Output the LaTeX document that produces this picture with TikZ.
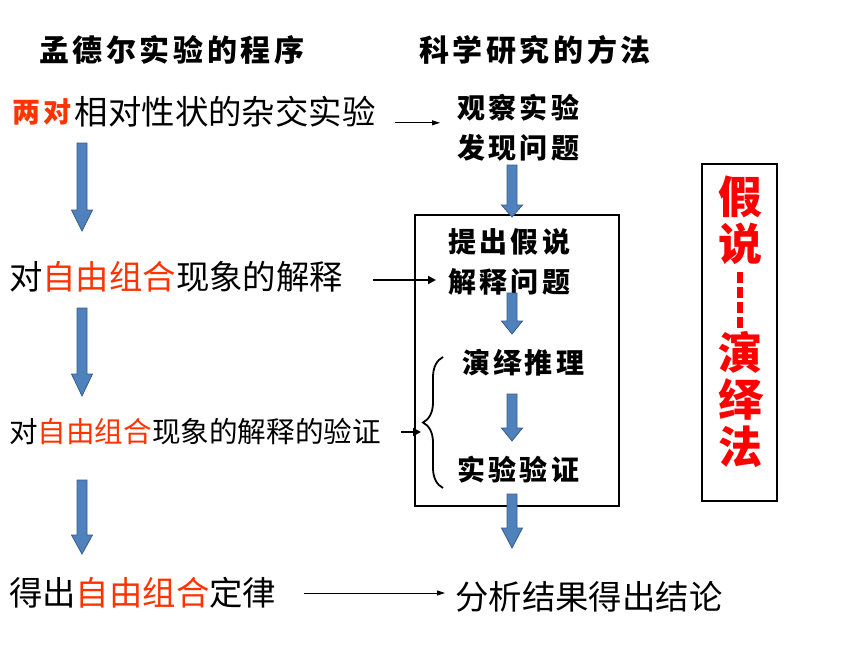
\documentclass[tikz,border=0pt]{standalone}
\usepackage{fontspec}
\setmainfont{Noto Sans CJK SC}
\newfontfamily\brush[LetterSpace=12]{Noto Sans CJK SC}
\usetikzlibrary{positioning,arrows.meta,decorations.pathreplacing}
\definecolor{hilite}{HTML}{FF3300}
\definecolor{arrowblue}{HTML}{4F81BD}
\definecolor{arrowedge}{HTML}{385D8A}
\tikzset{
    plain-text/.style = {anchor=west, inner sep=0pt, font=\fontsize{33.4}{36}\selectfont},
    small-text/.style = {anchor=west, inner sep=0pt, font=\fontsize{28.6}{32}\selectfont},
    heading-text/.style = {anchor=west, inner sep=0pt, font=\brush\bfseries\fontsize{30}{36}\selectfont},
    brush-text/.style = {anchor=west, inner sep=0pt, align=left, font=\brush\bfseries\fontsize{28}{40}\selectfont},
    red-char/.style = {inner sep=0pt, align=center, text=red, font=\bfseries\fontsize{44}{47}\selectfont},
    thin-arrow/.style = {line width=0.8pt, -{Triangle[length=8pt,width=5pt]}},
    bold-arrow/.style = {line width=2pt, -{Triangle[length=8pt,width=8pt]}},
    arrow-body/.style = {fill=arrowblue, draw=arrowedge, line width=0.8pt},
    brace-line/.style = {line width=1.8pt, decorate, decoration={brace, amplitude=20pt}},
    pics/down-arrow/.style 2 args = {code = {
        \draw[arrow-body] (-5,0) -- (5,0) -- (5,#1-#2) -- (10.5,#1-#2) -- (0,#1)
            -- (-10.5,#1-#2) -- (-5,#1-#2) -- cycle;
    }},
}
\begin{document}
\begin{tikzpicture}[x=1pt, y=-1pt]
\useasboundingbox[fill=white] (0,0) rectangle (860,645);
% column headings
\node[heading-text] (program) at (39,50) {孟德尔实验的程序};
\node[heading-text] (method) at (419,50) {科学研究的方法};
% left column
\node[brush-text, text=hilite] (pair) at (12,112) {两对};
\node[plain-text, right=3pt of pair] (cross) {相对性状的杂交实验};
\node[plain-text] (explain) at (9,277) {对\textcolor{hilite}{自由组合}现象的解释};
\node[small-text] (test) at (9,432) {对\textcolor{hilite}{自由组合}现象的解释的验证};
\node[plain-text] (law) at (9,593) {得出\textcolor{hilite}{自由组合}定律};
% right column
\node[brush-text] (observe) at (457,128) {观察实验\\发现问题};
\node[brush-text] (hypothesis) at (448,262) {提出假说\\解释问题};
\node[brush-text] (infer) at (462,363) {演绎推理};
\node[brush-text] (verify) at (457,470) {实验验证};
\node[plain-text] (conclude) at (455,597) {分析结果得出结论};
\draw[line width=1.6pt] (415,215) rectangle (619,506);
% blue arrows
\pic at (82,143) {down-arrow={88}{21}};
\pic at (82,308) {down-arrow={88}{22}};
\pic at (82,480) {down-arrow={74}{19}};
\pic at (512,165) {down-arrow={52}{12}};
\pic at (512,293) {down-arrow={41}{13}};
\pic at (512,394) {down-arrow={47}{13}};
\pic at (512,494) {down-arrow={54}{20}};
% brace and links
\coordinate (tip) at (421,430);
\draw[brace-line] (443,488) -- (443,357);
\draw[thin-arrow, shorten <=19pt, shorten >=17pt] ([yshift=2pt]cross.base east) -- ([yshift=2pt]cross.base east -| observe.west);
\draw[bold-arrow, shorten <=30pt, shorten >=12pt] ([yshift=-3pt]explain.east) -- ([yshift=-3pt]explain.east -| hypothesis.west);
\draw[bold-arrow, shorten <=20pt] (test.east) -- (test.east -| tip);
\draw[thin-arrow, shorten <=27pt, shorten >=10pt] (law.east) -- (law.east -| conclude.west);
% method name
\draw[line width=2.5pt] (702,164) rectangle (777,501);
\node[red-char] (hypo) at (740,220) {假\\说};
\node[red-char] (deduct) at (740,400) {演\\绎\\法};
\draw[red, line width=6pt, dash pattern=on 11pt off 4pt, shorten <=7pt, shorten >=3pt] (hypo.south) -- (deduct.north);
\end{tikzpicture}
\end{document}
